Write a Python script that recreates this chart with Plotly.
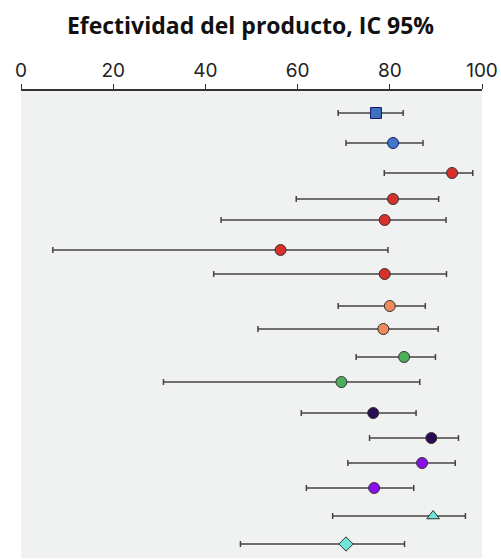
import plotly.graph_objects as go

# Point estimates and 95% CI bounds
estimates = [77.0, 80.7, 93.5, 80.7, 78.9, 56.3, 78.9, 80.0, 78.6, 83.1, 69.5, 76.4, 89.0, 87.0, 76.6, 89.4, 70.5]
ci_low = [68.8, 70.5, 78.8, 59.7, 43.4, 6.9, 41.8, 68.8, 51.4, 72.7, 30.9, 60.8, 75.6, 70.9, 61.9, 67.6, 47.6]
ci_high = [82.9, 87.2, 98.0, 90.6, 92.2, 79.6, 92.3, 87.7, 90.5, 89.9, 86.5, 85.7, 94.9, 94.2, 85.2, 96.4, 83.2]
# Row positions (top to bottom, irregular spacing as in the reference)
rows = [22, 52, 82, 108, 129, 159, 183, 215, 238, 266, 291, 322, 347, 372, 397, 425, 453]
colors = ["#3b6fc0", "#3f78c8", "#d8302a", "#d8302a", "#d8302a", "#d8302a", "#d8302a",
          "#f08a5a", "#f08a5a", "#4cae5a", "#4cae5a", "#2b0b55", "#2b0b55",
          "#8a10e8", "#8a10e8", "#6ee6d8", "#6ee6d8"]
symbols = ["square", "circle", "circle", "circle", "circle", "circle", "circle",
           "circle", "circle", "circle", "circle", "circle", "circle",
           "circle", "circle", "triangle-up", "diamond"]
outlines = ["#1a1a6e", "#1a1a6e"] + ["#333333"] * 15
tick_vals = [0, 20, 40, 60, 80, 100]

fig = go.Figure()
fig.add_trace(go.Scatter(
    x=estimates, y=rows, mode="markers",
    error_x=dict(type="data", symmetric=False,
                 array=[h - e for h, e in zip(ci_high, estimates)],
                 arrayminus=[e - l for e, l in zip(estimates, ci_low)],
                 color="#444444", thickness=1.5, width=3),
    marker=dict(color=colors, symbol=symbols, size=11,
                line=dict(color=outlines, width=1)),
    hoverinfo="skip", showlegend=False,
))

fig.update_layout(
    width=501, height=559,
    margin=dict(l=21, r=19, t=91, b=1, autoexpand=False),
    paper_bgcolor="white", plot_bgcolor="#f0f1f1",
    title=dict(text="<b>Efectividad del producto, IC 95%</b>", x=0.5, xanchor="center",
               y=1 - 26 / 559, yanchor="middle",
               font=dict(family="Open Sans, sans-serif", size=23, color="#111111")),
    font=dict(family="Inter, Open Sans, sans-serif", color="#222222"),
)
fig.update_xaxes(range=[0, 100], side="top", tickvals=tick_vals, automargin=False,
                 ticks="outside", ticklen=5, tickcolor="#333333", tickwidth=1,
                 showline=True, linecolor="#333333", linewidth=1.5,
                 showgrid=False, zeroline=False,
                 tickfont=dict(size=19, color="#222222"))
fig.update_yaxes(range=[467, 0], showticklabels=False, showgrid=False, automargin=False,
                 zeroline=False, showline=False, ticks="")

fig.write_html("out.html", config={"displayModeBar": False},
               post_script="document.body.style.margin='0';document.body.style.padding='0';")
